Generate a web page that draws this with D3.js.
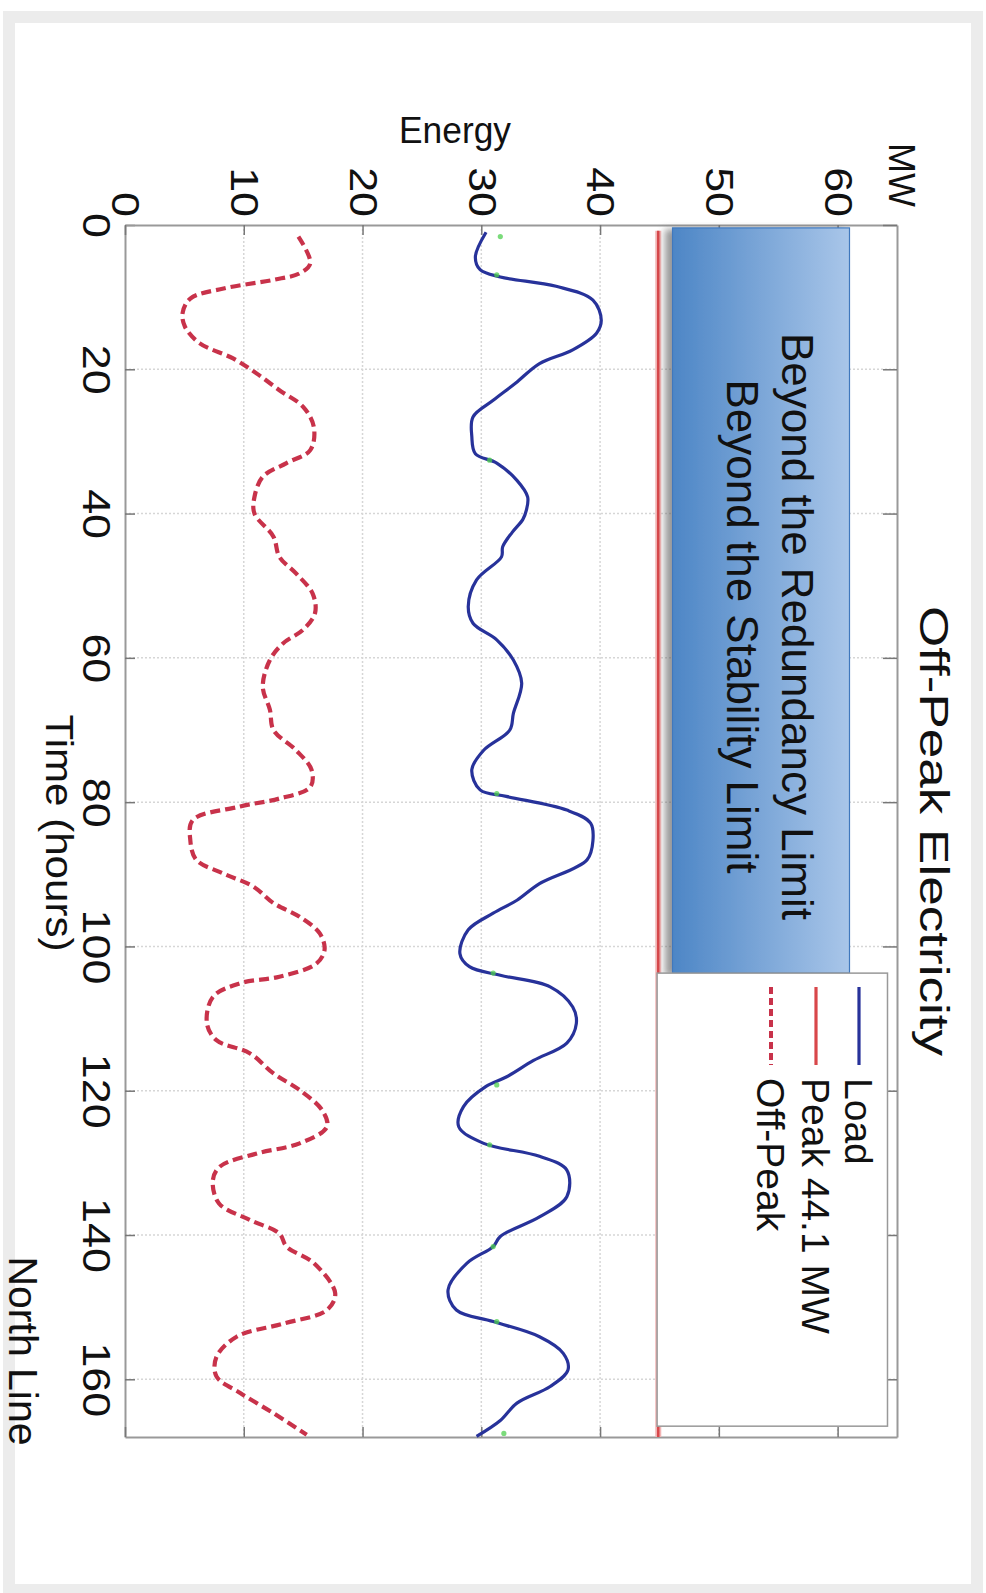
<!DOCTYPE html>
<html><head><meta charset="utf-8">
<script src="https://cdn.jsdelivr.net/npm/d3@7"></script>
<style>
body{margin:0;background:#fff}
text{font-family:"Liberation Sans", Arial, Helvetica, sans-serif; fill:#111}
</style>
</head><body>
<svg id="chart" width="986" height="1593"></svg>
<script>
// ---------------- data ----------------
const chartTitle = "Off-Peak Electricity";
const xAxisTitle = "Time (hours)";
const yAxisTitle = "MW";
const sideTitle = "Energy";
const cornerLabel = "North Line";
const hourTicks = [0, 20, 40, 60, 80, 100, 120, 140, 160];
const mwTicks = [0, 10, 20, 30, 40, 50, 60];
const hourDomain = [0, 168];
const mwDomain = [0, 65];

const loadHours = [1.0, 4.4, 6.2, 7.2, 8.5, 10.4, 13.2, 15.0, 17.3, 19.2, 21.9, 24.3, 26.6, 29.3, 31.7, 33.0, 35.4, 37.7, 39.5, 40.8, 42.6,
  44.6, 46.0, 49.2, 52.9, 55.2, 57.5, 60.3, 63.5, 67.7, 70.0, 72.8, 75.5, 78.3, 79.2, 81.1, 82.9, 85.3, 88.0, 91.3, 93.6, 95.4, 97.7,
  101.0, 102.8, 104.0, 105.6, 108.4, 110.7, 113.4, 115.8, 118.1, 119.4, 122.2, 125.0, 127.3, 129.1, 131.0, 134.7, 137.5, 140.2, 141.6,
  143.9, 147.6, 150.4, 152.0, 154.1, 156.4, 158.7, 161.0, 163.3, 165.7, 167.9];
const loadMW = [30.4, 29.5, 29.9, 31.6, 36.3, 39.4, 40.1, 39.7, 37.7, 34.9, 32.9, 31.0, 29.3, 29.2, 29.5, 31.3, 33.0, 33.9, 33.8, 33.5, 32.6,
  31.8, 31.7, 29.6, 28.9, 29.3, 31.3, 32.7, 33.4, 32.7, 32.4, 30.2, 29.2, 29.9, 32.1, 37.2, 39.2, 39.4, 38.9, 34.9, 33.0, 31.0, 28.9,
  28.2, 29.0, 31.6, 35.8, 37.7, 38.0, 37.2, 34.4, 32.1, 30.4, 28.5, 28.1, 30.2, 34.9, 37.2, 37.2, 34.9, 31.6, 31.0,
  28.8, 27.2, 27.9, 31.0, 34.9, 36.9, 37.3, 35.8, 33.0, 31.6, 29.6];

const offPeakHours = [1.6, 5.3, 6.7, 7.6, 8.8, 10.2, 12.2, 14.1, 16.4, 18.5, 20.6, 22.9, 25.2, 28.0, 31.2, 33.0, 34.9, 37.7, 40.0, 43.2,
  46.0, 48.3, 51.1, 53.8, 56.1, 58.0, 60.3, 64.0, 67.2, 70.0, 72.8, 75.5, 77.9, 79.5, 80.6, 82.5, 85.3, 88.0, 89.9, 91.7, 94.0, 95.9,
  98.2, 100.5, 102.4, 104.2, 105.1, 107.0, 110.7, 113.0, 114.8, 117.6, 119.9, 122.7, 125.0, 127.3, 128.7, 130.5, 132.4, 135.6, 137.9,
  139.8, 141.6, 143.9, 148.1, 150.4, 152.3, 154.1, 156.9, 159.6, 161.9, 164.7, 167.7];
const offPeakMW = [14.6, 15.6, 14.7, 12.5, 8.3, 5.5, 4.85, 5.05, 6.3, 9.1, 11.1, 13.0, 15.0, 15.9, 15.6, 13.6, 11.6, 10.9, 10.9, 12.5,
  13.0, 14.4, 15.8, 16.0, 15.0, 13.3, 12.2, 11.6, 12.2, 12.5, 14.4, 15.7, 15.6, 13.0, 9.7, 5.7, 5.5, 6.0, 8.3, 10.8, 12.5, 14.7,
  16.4, 16.8, 16.1, 13.0, 9.7, 7.4, 6.9, 7.7, 10.5, 12.5, 14.7, 16.6, 17.0, 14.7, 11.1, 8.0, 7.4, 7.9, 10.5,
  13.0, 13.6, 15.9, 17.7, 17.0, 13.3, 9.4, 7.7, 7.7, 9.7, 12.5, 15.3];

const peakMW = 44.9;               // position of the drawn peak line
const peakLabel = "Peak 44.1 MW";
const legendLabels = ["Load", peakLabel, "Off-Peak"];
const annotationLines = ["Beyond the Redundancy Limit", "Beyond the Stability Limit"];
const annotationMW = [46.1, 61.0];
const annotationHours = [0.4, 103.7];
const legendMW = [44.8, 64.2];
const legendHours = [103.7, 166.5];

const greenHours = [1.6, 6.9, 32.6, 78.8, 103.7, 119.2, 127.5, 141.6, 152.0, 167.5];
const greenMW = [31.6, 31.3, 30.7, 31.3, 31.0, 31.3, 30.7, 31.0, 31.3, 31.9];

// ---------------- colours ----------------
const loadColor = "#27329a";
const offPeakColor = "#c8324a";
const peakColor = "#d8474a";

// ---------------- layout ----------------
const svg = d3.select("#chart");
const x = d3.scaleLinear().domain(mwDomain).range([125, 897]);     // MW runs left -> right
const y = d3.scaleLinear().domain(hourDomain).range([225, 1437]);  // hours run top -> bottom

const defs = svg.append("defs");
const grad = defs.append("linearGradient").attr("id", "boxGrad").attr("x1", "0").attr("x2", "1").attr("y1", "0").attr("y2", "0");
grad.append("stop").attr("offset", "0").attr("stop-color", "#4d86c6");
grad.append("stop").attr("offset", "1").attr("stop-color", "#a9c6e9");
const f = defs.append("filter").attr("id", "shadow").attr("x", "-20%").attr("y", "-5%").attr("width", "140%").attr("height", "110%");
f.append("feDropShadow").attr("dx", -7).attr("dy", 2).attr("stdDeviation", 3.5).attr("flood-color", "#555").attr("flood-opacity", 0.6);

// outer frame
svg.append("rect").attr("x", 9).attr("y", 17).attr("width", 968).attr("height", 1573)
  .attr("fill", "#fff").attr("stroke", "#ececec").attr("stroke-width", 12);

// grid
const grid = svg.append("g").attr("stroke", "#d6d6d6").attr("stroke-width", 1.5).attr("stroke-dasharray", "2,2");
grid.selectAll(".gv").data(mwTicks.filter(d => d > 0)).join("line")
  .attr("x1", d => x(d)).attr("x2", d => x(d)).attr("y1", y(0)).attr("y2", y(168));
grid.selectAll(".gh").data(hourTicks.filter(d => d > 0)).join("line")
  .attr("y1", d => y(d)).attr("y2", d => y(d)).attr("x1", x(0)).attr("x2", x(65));

// axes
const axisStyle = g => { g.selectAll("path.domain").attr("stroke", "#999").attr("stroke-width", 2);
  g.selectAll(".tick line").attr("stroke", "#777").attr("stroke-width", 1.5); };
const tickScale = 1.18;
const gl = svg.append("g").attr("transform", `translate(${x(0)},0)`)
  .call(d3.axisLeft(y).tickValues(hourTicks).tickSizeInner(-10).tickSizeOuter(0)).call(axisStyle);
gl.selectAll("text").attr("x", null).attr("dy", "0.35em").attr("text-anchor", "middle")
  .attr("transform", `translate(-29,0) rotate(90) scale(${tickScale},1)`)
  .style("font-size", "38px").style("font-family", "Liberation Sans, Arial, sans-serif").attr("fill", "#111");
const gt = svg.append("g").attr("transform", `translate(0,${y(0)})`)
  .call(d3.axisTop(x).tickValues(mwTicks).tickSizeInner(-10).tickSizeOuter(0)).call(axisStyle);
gt.selectAll("text").attr("y", null).attr("dy", "0.35em").attr("text-anchor", "end")
  .attr("transform", `translate(0,-8) rotate(90) scale(${tickScale},1)`)
  .style("font-size", "38px").style("font-family", "Liberation Sans, Arial, sans-serif").attr("fill", "#111");
svg.append("g").attr("transform", `translate(${x(65)},0)`)
  .call(d3.axisRight(y).tickValues(hourTicks).tickSizeInner(-14).tickSizeOuter(0).tickFormat(""))
  .call(axisStyle);
svg.append("g").attr("transform", `translate(0,${y(168)})`)
  .call(d3.axisBottom(x).tickValues(mwTicks).tickSizeInner(-10).tickSizeOuter(0).tickFormat(""))
  .call(axisStyle);

// peak line
svg.append("line").attr("x1", x(peakMW)).attr("x2", x(peakMW)).attr("y1", y(0.8)).attr("y2", y(168))
  .attr("stroke", "#f2b3b3").attr("stroke-width", 6);
svg.append("line").attr("x1", x(peakMW)).attr("x2", x(peakMW)).attr("y1", y(0.8)).attr("y2", y(168))
  .attr("stroke", peakColor).attr("stroke-width", 2.5);

// series
const lineGen = d3.line().x(d => x(d[1])).y(d => y(d[0])).curve(d3.curveCatmullRom.alpha(0.5));
const offPeak = offPeakHours.map((h, i) => [h, offPeakMW[i]]);
const load = loadHours.map((h, i) => [h, loadMW[i]]);
svg.append("path").datum(offPeak).attr("d", lineGen).attr("fill", "none")
  .attr("stroke", offPeakColor).attr("stroke-width", 4.2).attr("stroke-dasharray", "10,5");
svg.append("path").datum(load).attr("d", lineGen).attr("fill", "none")
  .attr("stroke", loadColor).attr("stroke-width", 3.2).attr("stroke-linejoin", "round");
svg.selectAll(".gm").data(greenHours.map((h, i) => [h, greenMW[i]])).join("circle")
  .attr("cx", d => x(d[1])).attr("cy", d => y(d[0])).attr("r", 2.6).attr("fill", "#4fcf4f").attr("opacity", 0.75);

// annotation box
svg.append("rect").attr("x", x(annotationMW[0])).attr("y", y(annotationHours[0]))
  .attr("width", x(annotationMW[1]) - x(annotationMW[0])).attr("height", y(annotationHours[1]) - y(annotationHours[0]))
  .attr("fill", "url(#boxGrad)").attr("stroke", "#3f78bd").attr("stroke-width", 1.2).attr("filter", "url(#shadow)");
const annBase = [782, 727];
const annCenter = (y(annotationHours[0]) + y(annotationHours[1])) / 2 + 26;
annotationLines.forEach((t, i) => {
  svg.append("text").attr("transform", `translate(${annBase[i]},${annCenter}) rotate(90)`)
    .attr("text-anchor", "middle").style("font-size", "44px").attr("fill", "#000").text(t);
});

// legend
svg.append("rect").attr("x", x(legendMW[0])).attr("y", y(legendHours[0]))
  .attr("width", x(legendMW[1]) - x(legendMW[0])).attr("height", y(legendHours[1]) - y(legendHours[0]))
  .attr("fill", "#fff").attr("stroke", "#999").attr("stroke-width", 1.5);
const legBase = [845, 802, 757];
const legColors = [loadColor, peakColor, offPeakColor];
const legDash = [null, null, "7,4"];
legendLabels.forEach((t, i) => {
  svg.append("line").attr("x1", legBase[i] + 14).attr("x2", legBase[i] + 14).attr("y1", 987).attr("y2", 1065)
    .attr("stroke", legColors[i]).attr("stroke-width", i === 2 ? 4 : 3.2).attr("stroke-dasharray", legDash[i]);
  svg.append("text").attr("transform", `translate(${legBase[i]},1078) rotate(90)`)
    .style("font-size", "39px").text(t);
});

// titles
svg.append("text").attr("transform", `translate(920,831) rotate(90)`).attr("text-anchor", "middle")
  .attr("textLength", 450).attr("lengthAdjust", "spacingAndGlyphs").style("font-size", "41px").text(chartTitle);
svg.append("text").attr("transform", `translate(46,833) rotate(90)`).attr("text-anchor", "middle")
  .attr("textLength", 237).attr("lengthAdjust", "spacingAndGlyphs").style("font-size", "38px").text(xAxisTitle);
svg.append("text").attr("transform", `translate(889,175) rotate(90)`).attr("text-anchor", "middle")
  .style("font-size", "36px").text(yAxisTitle);
svg.append("text").attr("x", 455).attr("y", 143).attr("text-anchor", "middle")
  .attr("textLength", 112).attr("lengthAdjust", "spacingAndGlyphs").style("font-size", "36px").text(sideTitle);
svg.append("text").attr("transform", `translate(9,1351) rotate(90)`).attr("text-anchor", "middle")
  .style("font-size", "41px").attr("fill", "#000").text(cornerLabel);
</script>
</body></html>
